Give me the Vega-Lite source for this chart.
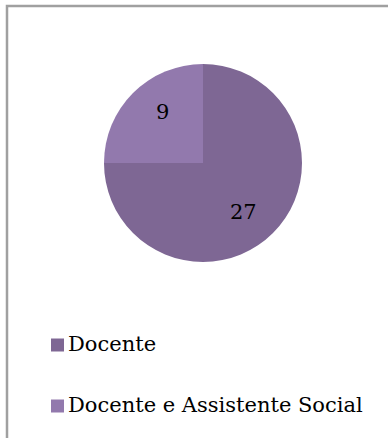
{
  "$schema": "https://vega.github.io/schema/vega-lite/v6.json",
  "width": 370,
  "height": 326,
  "autosize": "none",
  "padding": {"left": 18, "top": 0, "right": 0, "bottom": 112},
  "background": "white",
  "config": {
    "view": {"stroke": null},
    "legend": {"strokeWidth": 2.5}
  },
  "data": {
    "values": [
      {"cat": "Docente", "n": 27},
      {"cat": "Docente e Assistente Social", "n": 9}
    ]
  },
  "encoding": {
    "order": {"field": "n", "type": "quantitative", "sort": "descending"}
  },
  "resolve": {"scale": {"theta": "independent"}},
  "layer": [
    {
      "mark": {"type": "arc", "radius": 99},
      "encoding": {
        "theta": {"field": "n", "type": "quantitative", "stack": true},
        "color": {
          "field": "cat",
          "type": "nominal",
          "scale": {
            "domain": ["Docente", "Docente e Assistente Social"],
            "range": ["#7e6794", "#9279ad"]
          },
          "legend": {
            "orient": "none",
            "legendX": -11,
            "legendY": 6,
            "title": " ",
            "titleFontSize": 10,
            "titlePadding": 278.5,
            "padding": 40,
            "strokeColor": "#a0a0a0",
            "symbolType": "square",
            "symbolSize": 169,
            "symbolStrokeWidth": 0,
            "labelFont": "DejaVu Serif",
            "labelFontSize": 21,
            "labelColor": "black",
            "labelOffset": 0,
            "labelLimit": 0,
            "rowPadding": 39
          }
        }
      }
    },
    {
      "mark": {"type": "text", "radius": 64, "font": "DejaVu Serif", "fontSize": 21, "color": "black", "baseline": "middle", "align": "center"},
      "encoding": {
        "theta": {"field": "n", "type": "quantitative", "stack": true, "scale": {"range": [0.1047, 6.3879]}},
        "detail": {"field": "cat", "type": "nominal"},
        "text": {"field": "n", "type": "quantitative"}
      }
    }
  ]
}
